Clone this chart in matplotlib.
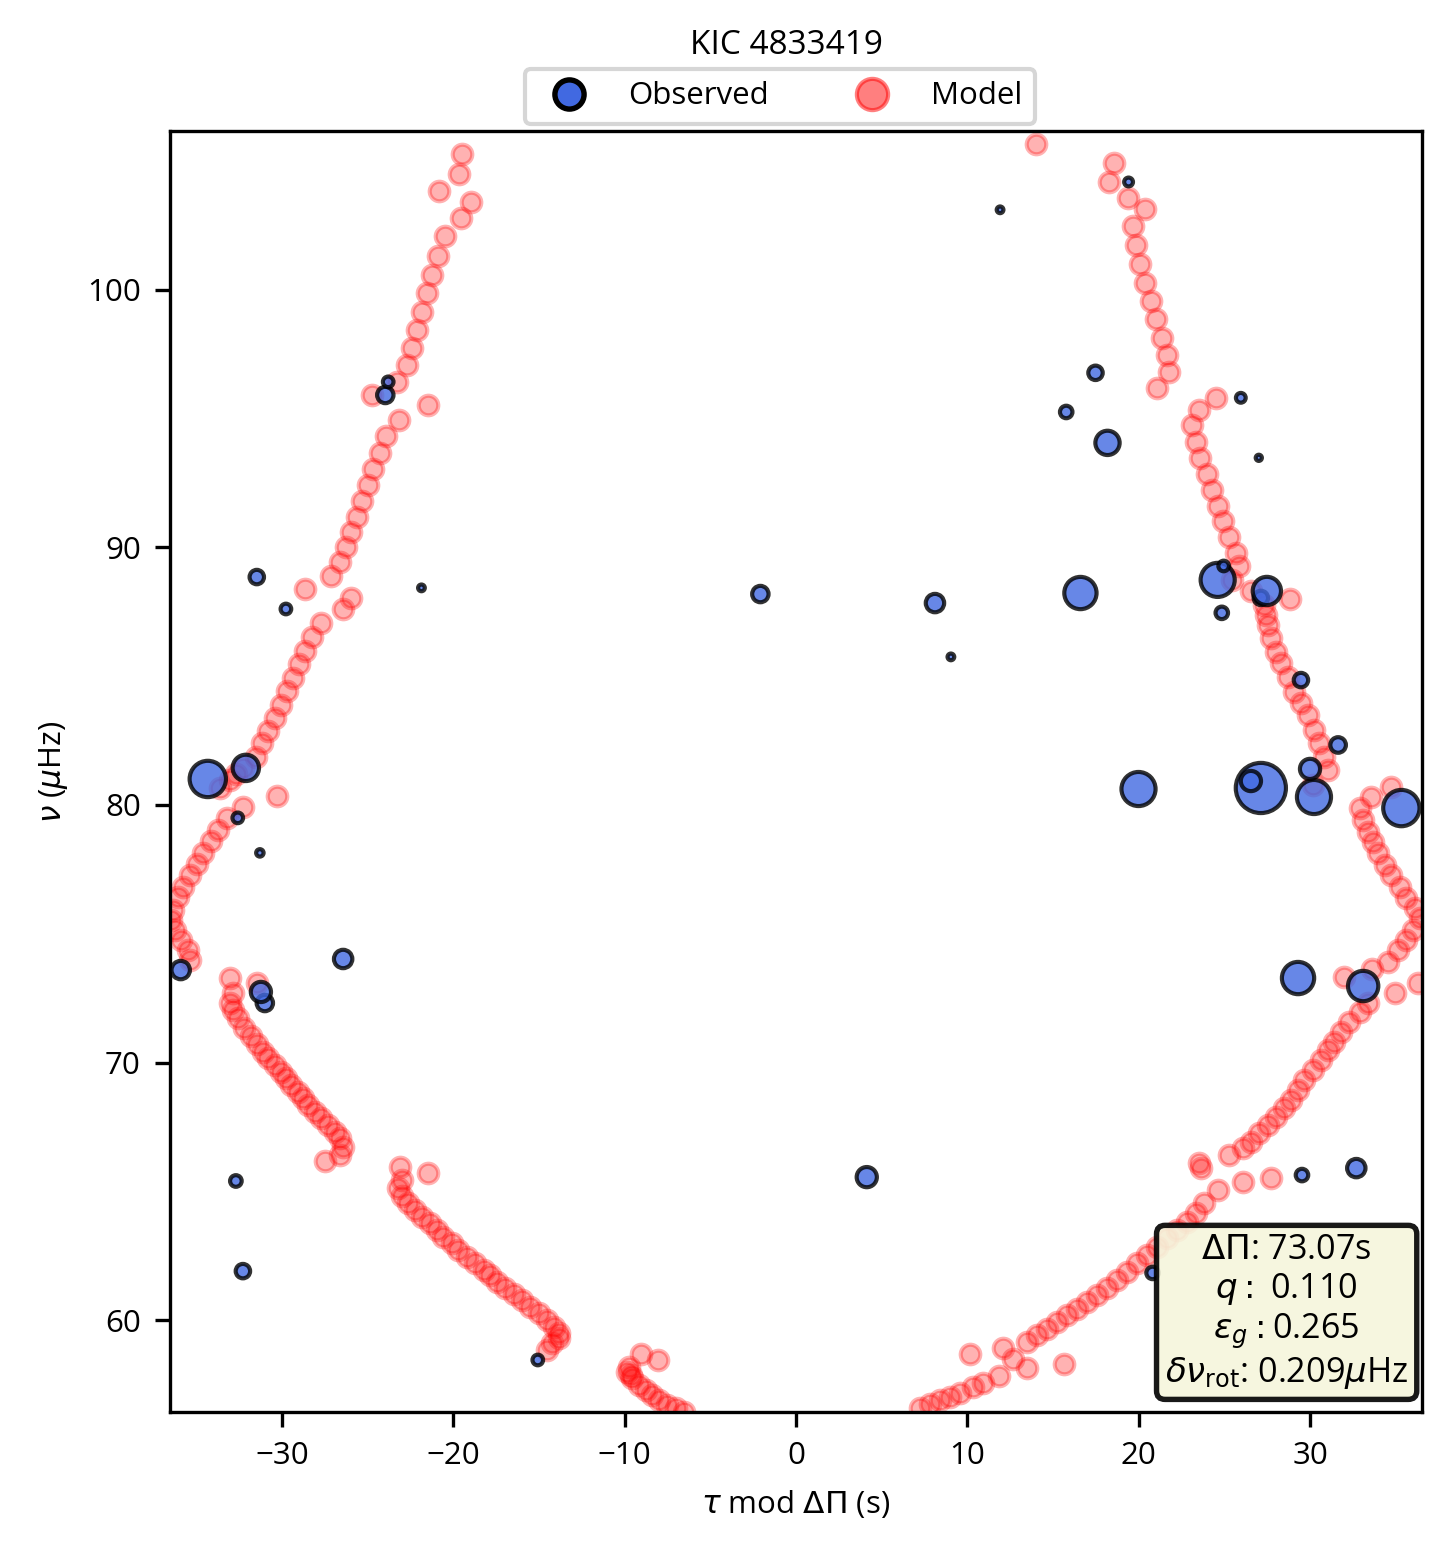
import matplotlib
matplotlib.use('Agg')
import matplotlib.pyplot as plt
from matplotlib.lines import Line2D
import numpy as np

# ---------------- data ----------------
title = "KIC 4833419"
delta_pi = 73.07
q_val = 0.110
eps_g = 0.265
dnu_rot = 0.209

model_tau = [
    # upper-left branches
    -19.52, -19.64, -20.81, -18.94, -19.58, -20.46, -20.87, -21.22, -21.51, -21.81,
    -22.10, -22.39, -22.68, -23.27, -24.73, -21.46, -23.15, -23.91, -24.26, -24.67,
    -24.97, -25.32, -25.61, -25.96, -26.25, -26.60, -27.13, -28.65, -25.96, -26.43,
    -27.72, -28.24, -28.65, -29.01, -29.36, -29.71, -30.06, -30.41, -30.82, -31.17,
    -31.52, -32.28, -32.69, -33.04, -33.63, -30.29, -32.28, -33.22, -33.75, -34.16,
    -34.63, -34.98, -35.39, -35.80, -36.09, -36.38, -36.50, -36.26, -35.91, -35.50,
    -35.39,
    # lower-left branch
    -33.06, -31.45, -32.87, -33.06, -32.87, -32.58, -32.19, -31.80, -31.45, -31.11,
    -30.82, -30.43, -30.04, -29.75, -29.46, -29.06, -28.77, -28.48, -28.09, -27.70,
    -27.31, -26.92, -26.62, -26.43, -26.62, -27.50,
    # bottom-left branch
    -23.11, -21.45, -23.02, -23.21, -23.02, -22.63, -22.23, -21.85, -21.36, -20.97,
    -20.58, -20.09, -19.70, -19.21, -18.72, -18.23, -17.84, -17.46, -16.96, -16.48,
    -15.99, -15.50, -15.01, -14.53, -14.14, -13.84, -13.84, -14.24, -14.53,
    # bottom-middle branch
    -9.06, -8.05, -9.75, -9.85, -9.65, -9.55, -9.16, -8.77, -8.38, -7.99, -7.50, -7.01, -6.53,
    # bottom-right branch
    7.23, 7.81, 8.40, 8.99, 9.57, 10.35, 10.94, 11.87, 10.16, 12.09,
    12.69, 13.47, 15.62, 13.47, 14.06, 14.65, 15.23, 15.82, 16.40, 16.99,
    17.57, 18.16, 18.74, 19.33, 19.91, 20.50, 21.09, 21.67, 22.26, 22.84,
    23.33, 23.81, 24.60, 26.06, 27.72, 23.62, 23.52, 25.28, 26.06, 26.55,
    27.03, 27.52, 28.01, 28.50, 28.89, 29.28, 29.67, 30.16, 30.64, 31.04,
    31.42, 31.81, 32.30, 32.89, 33.38, 34.94, 36.31,
    # right branches
    14.02, 18.55, 18.29, 19.36, 20.36, 19.66, 19.82, 20.07, 20.34, 20.69,
    20.99, 21.38, 21.67, 21.77, 21.04, 24.50, 23.52, 23.11, 23.35, 23.58,
    23.96, 24.25, 24.60, 24.94, 25.28, 25.67, 25.86, 25.47, 26.55, 28.82,
    27.33, 27.42, 27.52, 27.72, 28.01, 28.30, 28.70, 29.08, 29.47, 29.87,
    30.25, 30.55, 30.84, 31.04, 30.16, 34.74, 33.57, 32.89, 33.09, 33.38,
    33.67, 33.96, 34.35, 34.74, 35.23, 35.62, 36.11, 36.40, 36.01, 35.62,
    35.13, 34.55, 33.60, 32.01,
]

model_nu = [
    105.28, 104.50, 103.84, 103.42, 102.80, 102.10, 101.32, 100.58, 99.88, 99.15,
    98.45, 97.75, 97.09, 96.43, 95.92, 95.53, 94.95, 94.33, 93.67, 93.05,
    92.43, 91.81, 91.18, 90.60, 90.02, 89.44, 88.89, 88.39, 88.04, 87.61,
    87.07, 86.52, 85.98, 85.48, 84.93, 84.43, 83.88, 83.38, 82.87, 82.41,
    81.86, 81.44, 81.20, 80.97, 80.66, 80.35, 79.92, 79.50, 79.03, 78.60,
    78.14, 77.71, 77.28, 76.82, 76.43, 75.92, 75.53, 75.15, 74.76, 74.37,
    73.98,
    73.29, 73.08, 72.69, 72.32, 72.04, 71.73, 71.34, 71.03, 70.72, 70.42,
    70.16, 69.90, 69.64, 69.39, 69.13, 68.87, 68.61, 68.35, 68.09, 67.83,
    67.57, 67.31, 67.06, 66.73, 66.41, 66.19,
    65.95, 65.70, 65.44, 65.11, 64.82, 64.54, 64.27, 64.01, 63.76, 63.50,
    63.24, 62.98, 62.72, 62.46, 62.21, 61.94, 61.75, 61.49, 61.23, 61.03,
    60.78, 60.52, 60.26, 60.00, 59.74, 59.48, 59.29, 59.09, 58.83,
    58.70, 58.45, 58.19, 58.00, 57.88, 57.74, 57.48, 57.28, 57.09, 56.89, 56.70, 56.57, 56.44,
    56.60, 56.76, 56.89, 57.02, 57.15, 57.39, 57.55, 57.83, 58.69, 58.93,
    58.50, 58.12, 58.31, 59.15, 59.41, 59.66, 59.92, 60.18, 60.44, 60.70,
    60.96, 61.23, 61.55, 61.88, 62.20, 62.52, 62.85, 63.17, 63.50, 63.82,
    64.14, 64.53, 65.05, 65.37, 65.50, 65.89, 66.09, 66.41, 66.67, 66.93,
    67.25, 67.57, 67.90, 68.22, 68.54, 68.93, 69.32, 69.71, 70.10, 70.49,
    70.81, 71.20, 71.59, 71.98, 72.30, 72.69, 73.08,
    105.68, 104.92, 104.19, 103.58, 103.13, 102.49, 101.73, 101.00, 100.26, 99.57,
    98.86, 98.15, 97.48, 96.80, 96.18, 95.80, 95.35, 94.74, 94.10, 93.47,
    92.86, 92.23, 91.61, 91.01, 90.41, 89.80, 89.28, 88.74, 88.32, 88.00,
    87.77, 87.38, 86.99, 86.47, 85.95, 85.50, 84.98, 84.40, 83.95, 83.50,
    82.91, 82.40, 81.88, 81.36, 80.78, 80.71, 80.32, 79.87, 79.42, 78.96,
    78.58, 78.13, 77.67, 77.28, 76.83, 76.38, 75.99, 75.60, 75.15, 74.76,
    74.37, 73.92, 73.62, 73.33,
]

obs_tau = [-23.80, -23.97, -31.47, -29.77, -21.86, -34.33, -32.11, -32.58, -31.29, -26.43,
           -35.91, -31.23, -31.00, -32.69, -32.28, -15.07, -2.08, 8.11, 9.04, 4.13,
           16.60, 18.18, 17.48, 15.77, 19.41, 11.91, 25.96, 27.01, 24.61, 24.96,
           24.85, 27.48, 27.13, 29.47, 31.64, 30.00, 27.13, 26.55, 30.23, 19.99,
           35.33, 29.30, 33.10, 29.53, 32.70, 20.81]
obs_nu = [96.43, 95.92, 88.85, 87.61, 88.43, 81.01, 81.44, 79.50, 78.14, 74.02,
          73.59, 72.74, 72.31, 65.40, 61.90, 58.45, 88.19, 87.84, 85.75, 65.55,
          88.23, 94.06, 96.78, 95.26, 104.19, 103.11, 95.81, 93.48, 88.74, 89.28,
          87.46, 88.31, 88.04, 84.85, 82.33, 81.40, 80.66, 80.93, 80.31, 80.62,
          79.88, 73.28, 72.97, 65.63, 65.90, 61.83]
obs_size = [6.5, 15.5, 12.0, 6.5, 2.6, 76.0, 40.0, 6.5, 3.2, 19.5,
            19.5, 23.5, 15.5, 7.8, 12.0, 6.5, 15.5, 19.5, 2.6, 23.5,
            60.0, 34.0, 12.0, 9.0, 4.5, 2.6, 5.5, 2.2, 67.0, 6.5,
            9.0, 46.0, 12.0, 12.0, 14.0, 23.5, 145.0, 23.5, 67.0, 67.0,
            76.0, 60.0, 53.0, 9.0, 19.5, 9.0]

# ---------------- plot ----------------
plt.rcParams['font.family'] = ['Open Sans', 'DejaVu Sans']
plt.rcParams['font.size'] = 7.5

W, H, DPI = 1451, 1556, 300
fig = plt.figure(figsize=(W / DPI, H / DPI), dpi=DPI)
ax = fig.add_axes([170 / W, 1 - 1412 / H, (1422 - 170) / W, (1412 - 131) / H])

ax.scatter(model_tau, model_nu, s=22, color='red', alpha=0.3, linewidths=1.0, zorder=2)

order = np.argsort(obs_nu)
ax.scatter(np.array(obs_tau)[order], np.array(obs_nu)[order], s=np.array(obs_size)[order],
           facecolor='royalblue', edgecolor='black', linewidths=1.0, alpha=0.8, zorder=3)

ax.set_xlim(-delta_pi / 2, delta_pi / 2)
ax.set_ylim(56.43, 106.17)
ax.set_xticks([-30, -20, -10, 0, 10, 20, 30])
ax.set_yticks([60, 70, 80, 90, 100])
ax.set_xlabel(r'$\tau$ mod $\Delta\Pi$ (s)')
ax.set_ylabel(r'$\nu$ ($\mu$Hz)')

handles = [
    Line2D([], [], ls='none', marker='o', markersize=7, markerfacecolor='royalblue',
           markeredgecolor='black', markeredgewidth=1.3),
    Line2D([], [], ls='none', marker='o', markersize=7.5, color='red', alpha=0.5,
           markeredgewidth=1.0),
]
ax.legend(handles, ['Observed', 'Model'], loc='lower center',
          bbox_to_anchor=((780 - 170) / 1252, 1.0055), borderaxespad=0, ncol=2,
          columnspacing=2.3, handletextpad=0.9, fontsize=7.5)

ax.text((786 - 170) / 1252, (1412 - 45) / 1281, title, transform=ax.transAxes,
        ha='center', va='center', fontsize=8)

info = (r'$\Delta\Pi$: %.2fs' % delta_pi + '\n' +
        r'$q:$ %.3f' % q_val + '\n' +
        r'$\varepsilon_g:$%.3f' % eps_g + '\n' +
        r'$\delta\nu_{\rm rot}$: %.3f$\mu$Hz' % dnu_rot)
ax.text(0.989, 0.0165, info, transform=ax.transAxes, ha='right', va='bottom',
        multialignment='center', fontsize=8.2, zorder=5, linespacing=1.15,
        bbox=dict(boxstyle='round,pad=0.25', facecolor='beige', edgecolor='black',
                  linewidth=1.3, alpha=0.9))

fig.savefig('out.png', dpi=DPI)
